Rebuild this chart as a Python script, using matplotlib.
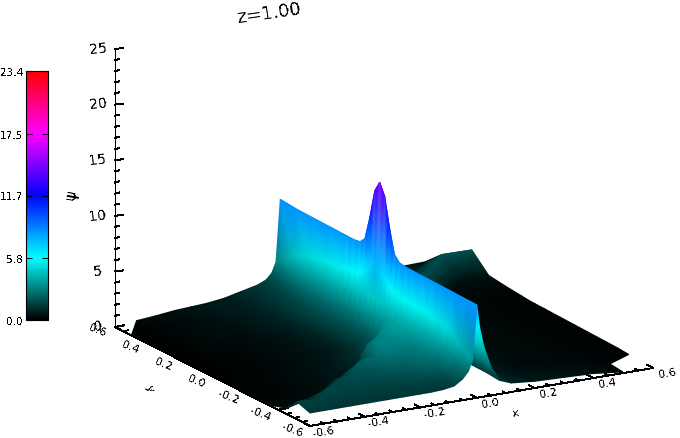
import numpy as np
import matplotlib
matplotlib.use("Agg")
import matplotlib.pyplot as plt
from matplotlib.colors import LinearSegmentedColormap, Normalize
from matplotlib.cm import ScalarMappable

# surface table, rows follow y_grid, columns follow x_grid
x_grid = [-0.6, -0.52, -0.45, -0.38, -0.32, -0.26, -0.2, -0.16, -0.12, -0.08, -0.05, -0.03, -0.015,
          0.0, 0.01, 0.025, 0.05, 0.08, 0.12, 0.2, 0.3, 0.4, 0.5, 0.6]
y_grid = [-0.6, -0.52, -0.45, -0.38, -0.32, -0.26, -0.2, -0.16, -0.12, -0.09, -0.06, -0.03, 0.0,
          0.03, 0.06, 0.09, 0.12, 0.16, 0.2, 0.3, 0.4, 0.5, 0.6]
psi = [
    [1.2, 1.2, 1.2, 1.2, 1.2, 1.2, 1.2, 1.2, 1.25, 1.4, 1.9, 2.5, 3.4, 8.3, 6.2, 4.4, 2.5, 1.2, 0.8, 0.6, 0.5, 0.4, 0.1, 0.05],
    [1.6, 1.5, 1.4, 1.4, 1.4, 1.4, 1.5, 1.6, 1.7, 1.9, 2.4, 3.0, 4.2, 8.3, 6.2, 4.4, 2.6, 1.3, 0.8, 0.5, 0.4, 0.3, 0.2, 0.05],
    [0.5, 1.0, 1.6, 1.6, 1.6, 1.7, 1.9, 2.0, 2.2, 2.4, 2.9, 3.6, 5.0, 8.3, 6.2, 4.4, 2.6, 1.3, 0.7, 0.4, 0.3, 0.2, 0.15, 0.05],
    [0.2, 0.25, 0.4, 1.5, 1.9, 2.0, 2.2, 2.4, 2.5, 2.7, 3.2, 4.0, 5.3, 8.3, 6.2, 4.4, 2.6, 1.3, 0.7, 0.4, 0.25, 0.2, 0.1, 0.1],
    [0.1, 0.2, 0.3, 0.45, 1.2, 2.2, 2.5, 2.9, 2.9, 3.0, 3.4, 4.2, 5.5, 8.3, 6.2, 4.4, 2.6, 1.3, 0.7, 0.4, 0.25, 0.2, 0.1, 0.1],
    [0.1, 0.15, 0.25, 0.35, 0.5, 0.7, 2.0, 3.1, 3.1, 3.3, 3.6, 4.3, 5.6, 8.3, 6.2, 4.4, 2.6, 1.3, 0.7, 0.4, 0.25, 0.2, 0.1, 0.1],
    [0.1, 0.15, 0.2, 0.3, 0.4, 0.6, 0.8, 2.4, 3.0, 3.5, 3.7, 4.4, 5.6, 8.3, 6.2, 4.4, 2.6, 1.3, 0.7, 0.4, 0.25, 0.2, 0.1, 0.1],
    [0.1, 0.15, 0.2, 0.3, 0.4, 0.55, 0.8, 1.1, 2.2, 3.3, 3.6, 4.4, 5.6, 8.3, 6.2, 4.4, 2.6, 1.3, 0.7, 0.4, 0.25, 0.2, 0.1, 0.1],
    [0.1, 0.15, 0.2, 0.3, 0.4, 0.5, 0.8, 1.1, 1.5, 2.4, 3.4, 4.4, 5.7, 8.4, 6.4, 4.5, 2.7, 1.4, 0.8, 0.4, 0.25, 0.2, 0.1, 0.1],
    [0.1, 0.15, 0.2, 0.3, 0.4, 0.5, 0.7, 0.9, 1.4, 2.2, 3.2, 4.4, 6.0, 8.9, 7.0, 4.8, 2.8, 1.4, 0.8, 0.4, 0.25, 0.2, 0.1, 0.1],
    [0.05, 0.1, 0.15, 0.25, 0.35, 0.45, 0.65, 0.85, 1.35, 2.1, 3.2, 4.5, 6.4, 11.0, 8.5, 5.4, 3.0, 1.5, 0.8, 0.4, 0.3, 0.2, 0.1, 0.1],
    [0.05, 0.1, 0.15, 0.2, 0.3, 0.4, 0.6, 0.8, 1.3, 2.1, 3.2, 4.5, 7.0, 13.6, 10.5, 6.2, 3.4, 1.7, 0.9, 0.4, 0.3, 0.2, 0.1, 0.1],
    [0.05, 0.1, 0.15, 0.2, 0.3, 0.4, 0.6, 0.8, 1.3, 2.0, 3.2, 4.6, 7.5, 14.6, 11.2, 6.6, 3.6, 1.7, 0.8, 0.4, 0.3, 0.2, 0.1, 0.1],
    [0.05, 0.1, 0.15, 0.2, 0.3, 0.4, 0.6, 0.8, 1.3, 2.0, 3.1, 4.5, 7.0, 13.6, 10.5, 6.2, 3.4, 1.6, 0.8, 0.4, 0.3, 0.2, 0.1, 0.1],
    [0.05, 0.1, 0.15, 0.2, 0.3, 0.4, 0.6, 0.8, 1.3, 2.0, 3.0, 4.4, 6.4, 11.0, 8.5, 5.4, 3.0, 1.6, 0.8, 0.4, 0.3, 0.2, 0.1, 0.1],
    [0.05, 0.1, 0.15, 0.2, 0.3, 0.4, 0.6, 0.8, 1.3, 2.0, 3.0, 4.3, 6.0, 8.9, 7.0, 4.8, 2.8, 2.0, 0.8, 0.4, 0.3, 0.2, 0.1, 0.1],
    [0.05, 0.1, 0.15, 0.2, 0.3, 0.4, 0.6, 0.8, 1.3, 2.0, 2.9, 4.2, 5.7, 8.4, 6.4, 4.5, 2.7, 2.4, 0.8, 0.4, 0.3, 0.2, 0.1, 0.1],
    [0.05, 0.1, 0.15, 0.25, 0.3, 0.4, 0.6, 0.9, 1.3, 1.9, 2.8, 4.1, 5.6, 8.3, 6.2, 4.4, 3.6, 3.3, 1.1, 0.5, 0.3, 0.2, 0.15, 0.1],
    [0.05, 0.1, 0.15, 0.25, 0.3, 0.45, 0.6, 0.9, 1.3, 1.9, 2.7, 4.0, 5.5, 8.3, 6.2, 4.4, 3.7, 3.5, 3.0, 0.6, 0.3, 0.2, 0.15, 0.15],
    [0.05, 0.1, 0.2, 0.3, 0.35, 0.5, 0.7, 0.9, 1.3, 1.8, 2.5, 3.8, 5.3, 8.3, 6.2, 4.4, 3.2, 2.9, 2.6, 1.9, 1.6, 0.3, 0.2, 0.25],
    [0.05, 0.1, 0.2, 0.3, 0.4, 0.5, 0.7, 0.9, 1.2, 1.6, 2.3, 3.4, 5.0, 8.3, 6.2, 4.4, 2.8, 2.2, 1.8, 1.2, 1.1, 1.8, 0.4, 0.4],
    [0.05, 0.15, 0.25, 0.35, 0.45, 0.55, 0.7, 0.9, 1.15, 1.45, 2.0, 3.0, 4.3, 8.3, 6.2, 4.4, 2.6, 1.9, 1.2, 0.8, 0.7, 0.8, 1.9, 1.8],
    [0.05, 0.2, 0.3, 0.45, 0.5, 0.55, 0.7, 0.9, 1.1, 1.3, 1.6, 2.1, 3.0, 8.4, 6.2, 4.4, 2.5, 1.6, 1.1, 0.8, 0.5, 0.5, 0.5, 0.6],
]

axis_ticks = [-0.6, -0.4, -0.2, 0.0, 0.2, 0.4, 0.6]
axis_labels = ["-0.6", "-0.4", "-0.2", "0.0", "0.2", "0.4", "0.6"]
z_ticks = [0, 5, 10, 15, 20, 25]
bar_ticks = [0.0, 5.8, 11.7, 17.5, 23.4]
bar_labels = ["0.0", "5.8", "11.7", "17.5", "23.4"]

plt.rcParams["text.antialiased"] = False
plt.rcParams["font.family"] = "DejaVu Sans"

cmap = LinearSegmentedColormap.from_list("psi", ["#000000", "#00ffff", "#0000ff", "#ff00ff", "#ff0000"], N=256)
norm = Normalize(0, 23.4)

fig = plt.figure(figsize=(6.8, 4.39), dpi=100)
ax = fig.add_axes([0, 0, 1, 1])
ax.set_xlim(0, 680)
ax.set_ylim(439, 0)
ax.axis("off")

# floor homography from the four corners of the box
src = [(-0.6, 0.6), (-0.6, -0.6), (0.6, -0.6), (0.6, 0.6)]
dst = [(115, 328), (310, 427), (653, 369), (455, 263)]
A = []
b = []
for (u, v), (px, py) in zip(src, dst):
    A.append([u, v, 1, 0, 0, 0, -u * px, -v * px])
    b.append(px)
    A.append([0, 0, 0, u, v, 1, -u * py, -v * py])
    b.append(py)
h = np.linalg.solve(np.array(A, float), np.array(b, float))
w0 = h[6] * -0.6 + h[7] * 0.6 + 1


def project(x, y, z=0.0):
    x = np.asarray(x, float)
    y = np.asarray(y, float)
    w = h[6] * x + h[7] * y + 1
    px = (h[0] * x + h[1] * y + h[2]) / w
    py = (h[3] * x + h[4] * y + h[5]) / w
    return px, py - np.asarray(z, float) * 11.12 * w0 / w


def seg(p, q):
    ax.plot([p[0], q[0]], [p[1], q[1]], color="k", lw=0.7, antialiased=False, zorder=1)


# z axis
seg(project(-0.6, 0.6, 0), project(-0.6, 0.6, 25))
for v in range(26):
    p = project(-0.6, 0.6, v)
    n = 8 if v % 5 == 0 else 4
    seg(p, (p[0] + n, p[1] - 1))
for v in z_ticks:
    p = project(-0.6, 0.6, v)
    ax.text(p[0] - 17, p[1] - 1, str(v), fontsize=10, rotation=6, ha="center", va="center")

# x and y axes on the floor
seg(project(-0.6, -0.6), project(0.6, -0.6))
seg(project(-0.6, -0.6), project(-0.6, 0.6))
for t in np.arange(-12, 13):
    v = t * 0.05
    n = 0.035 if t % 4 == 0 else 0.018
    seg(project(v, -0.6), project(v, -0.6 + n))
    seg(project(-0.6, v), project(-0.6 + n, v))
for v, s in zip(axis_ticks, axis_labels):
    p = project(v, -0.6)
    ax.text(p[0] + 14, p[1] + 5, s, fontsize=8, rotation=9, ha="center", va="center")
    p = project(-0.6, v)
    ax.text(p[0] - 17, p[1] + 3, s, fontsize=8, rotation=-22, ha="center", va="center")

ax.text(515, 414, "x", fontsize=8, rotation=9, ha="center", va="center")
ax.text(150, 388, "y", fontsize=8, rotation=-70, ha="center", va="center")
ax.text(72, 195, "ψ", fontsize=11, rotation=80, ha="center", va="center")
ax.text(269, 14, "z=1.00", fontsize=13, rotation=8, ha="center", va="center")

# surface, triangles go back to front so nearer cells paint over farther ones
X, Y = np.meshgrid(x_grid, y_grid)
Z = np.array(psi)
PX, PY = project(X, Y, Z)
nx = len(x_grid)
ny = len(y_grid)
tris = []
for j in range(ny - 2, -1, -1):
    for i in range(nx - 2, -1, -1):
        a = j * nx + i
        bb = a + 1
        c = a + nx + 1
        d = a + nx
        # domain has its corners cut off
        if (i, j) == (nx - 2, ny - 2):
            tris += [[a, bb, d]]
        elif (i, j) == (0, ny - 2):
            tris += [[a, bb, c]]
        elif (i, j) == (nx - 2, 0):
            continue
        elif (i, j) == (nx - 2, 1):
            tris += [[a, c, d]]
        else:
            tris += [[a, bb, c], [a, c, d]]
ax.tripcolor(PX.ravel(), PY.ravel(), np.array(tris), Z.ravel(), cmap=cmap, norm=norm, shading="gouraud", zorder=2)
ax.set_xlim(0, 680)
ax.set_ylim(439, 0)

# colour bar
cax = fig.add_axes([26 / 680, 1 - 321 / 439, 22 / 680, 249 / 439])
cb = fig.colorbar(ScalarMappable(norm=norm, cmap=cmap), cax=cax, ticks=bar_ticks)
cb.ax.yaxis.set_ticks_position("both")
cb.ax.tick_params(axis="y", direction="in", length=4, width=0.8, labelleft=True, labelright=False, labelsize=7.5, pad=2)
cb.ax.set_yticklabels(bar_labels)
cb.outline.set_linewidth(0.8)

fig.savefig("out.png", dpi=100, facecolor="white")
